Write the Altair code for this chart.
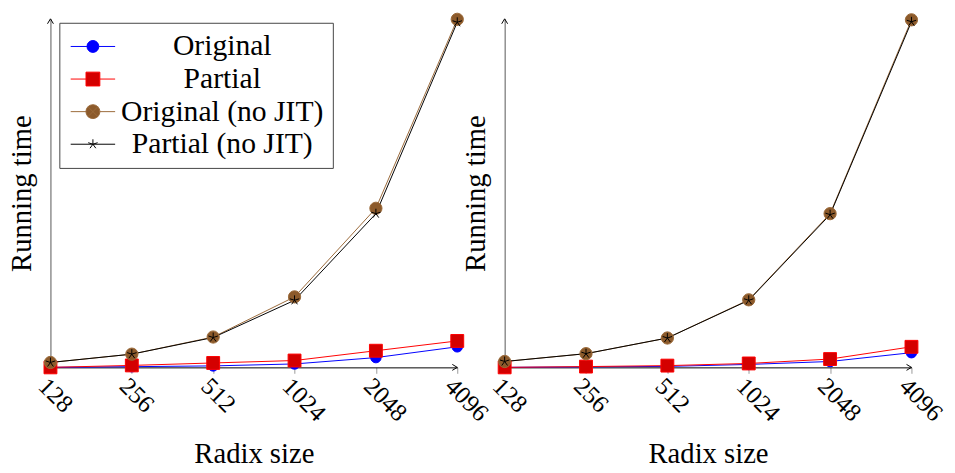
import altair as alt
import pandas as pd

radix = ["128", "256", "512", "1024", "2048", "4096"]
series = ["Original", "Partial", "Original (no JIT)", "Partial (no JIT)"]

# running times (arbitrary units)
left_original = [0, 0.7, 1.5, 3.5, 10, 21]
left_partial = [0, 2, 4.5, 7, 17, 27]
left_orig_nojit = [5, 13.5, 31, 72, 162.5, 355.5]
left_part_nojit = [5, 13.5, 30.5, 68.5, 157, 352.5]

right_original = [0, 0.5, 1, 3, 6, 15]
right_partial = [0, 0.8, 1.8, 4, 8.5, 21]
right_orig_nojit = [6, 14, 30, 69, 157, 355]
right_part_nojit = [6, 14, 30, 68.5, 156, 353]

line_colors = ["#0000ff", "#ff0000", "#9a6a3a", "#000000"]
fill_colors = ["#0000ff", "#d40000", "#8c5a2b", "transparent"]
STAR = "M0,0L0,-1M0,0L0.951,-0.309M0,0L0.588,0.809M0,0L-0.588,0.809M0,0L-0.951,-0.309"
point_shapes = ["circle", "square", "circle", STAR]
point_sizes = [113, 170, 154, 100]

# legend symbol geometry (line sample with a marker in the middle)
SYM_SIZE = 576          # legend layout square of 24 px
U = 12.0                # px per path unit
CX = 12.5               # px where the symbol origin sits
LINE_LEN = 45.0


def ux(px):
    return round((px - CX) / U, 3)


def uy(px):
    return round(px / U, 3)


def seg(x0, x1):
    return f"M{ux(x0)},0L{ux(x1)},0"


def circle(r):
    m = LINE_LEN / 2
    return (f"M{ux(m + r)},0A{uy(r)},{uy(r)},0,1,1,{ux(m - r)},0"
            f"A{uy(r)},{uy(r)},0,1,1,{ux(m + r)},0Z")


mid = LINE_LEN / 2
legend_paths = [
    seg(0, mid - 6) + seg(mid + 6, LINE_LEN) + circle(6),
    seg(0, mid - 7) + seg(mid + 7, LINE_LEN)
    + f"M{ux(mid - 7)},{uy(-7)}L{ux(mid + 7)},{uy(-7)}L{ux(mid + 7)},{uy(7)}L{ux(mid - 7)},{uy(7)}Z",
    seg(0, mid - 7) + seg(mid + 7, LINE_LEN) + circle(7)
    + f"M{ux(mid - 5)},{uy(-5)}L{ux(mid + 5)},{uy(5)}M{ux(mid - 5)},{uy(5)}L{ux(mid + 5)},{uy(-5)}",
    seg(0, LINE_LEN)
    + f"M{ux(mid)},0L{ux(mid)},{uy(-5)}"
    + f"M{ux(mid)},0L{ux(mid + 4.76)},{uy(-1.55)}"
    + f"M{ux(mid)},0L{ux(mid + 2.94)},{uy(4.05)}"
    + f"M{ux(mid)},0L{ux(mid - 2.94)},{uy(4.05)}"
    + f"M{ux(mid)},0L{ux(mid - 4.76)},{uy(-1.55)}",
]

Y_MAX = 356
FONT = "Liberation Serif"


def sel(vals):
    expr = "'" + vals[-1] + "'"
    for s, v in reversed(list(zip(series[:-1], vals[:-1]))):
        expr = "datum.value === '" + s + "' ? '" + v + "' : " + expr
    return expr


def build(vals):
    rows = []
    for s, v in zip(series, vals):
        for r, y in zip(radix, v):
            rows.append({"radix": r, "series": s, "value": y})
    return pd.DataFrame(rows)


legend = alt.Legend(
    orient="none", legendX=9, legendY=4, title=None,
    symbolSize=SYM_SIZE, symbolStrokeWidth=1, labelAlign="center", labelOffset=126,
    labelFont=FONT, labelFontSize=30, labelColor="black", labelLimit=0,
    rowPadding=3, padding=9,
    strokeColor="#444", fillColor="white",
    symbolType={"expr": sel(legend_paths)},
    symbolFillColor={"expr": sel(fill_colors)},
    symbolStrokeColor={"expr": sel(line_colors)},
    symbolOpacity=1,
)


def panel(df):
    xenc = alt.X("radix:N", sort=radix, scale=alt.Scale(type="point", padding=0),
                 axis=alt.Axis(title="Radix size", labelAngle=45, labelAlign="left",
                               labelBaseline="top", labelFontSize=25, labelPadding=0,
                               tickSize=6, tickColor="#999", domainColor="black",
                               titlePadding=14, grid=False))
    yenc = alt.Y("value:Q", scale=alt.Scale(domain=[0, Y_MAX], nice=False, zero=True),
                 axis=alt.Axis(title="Running time", labels=False, ticks=False, grid=False,
                               domainColor="#555", titlePadding=14))
    base = alt.Chart(df).encode(x=xenc, y=yenc)
    lines = base.mark_line(strokeWidth=1).encode(
        stroke=alt.Stroke("series:N", sort=series,
                          scale=alt.Scale(domain=series, range=line_colors), legend=legend),
        detail="series:N",
    )
    point_layers = []
    for s, shp, sz, fc, lc in zip(series, point_shapes, point_sizes, fill_colors, line_colors):
        point_layers.append(
            base.transform_filter(alt.datum.series == s).mark_point(
                shape=shp, size=sz, filled=(fc != "transparent"), fill=fc, stroke=lc,
                strokeWidth=1, opacity=1,
            )
        )
    xa = alt.Chart(pd.DataFrame({"radix": [radix[-1]], "value": [0]})).mark_point(
        shape="M-1,-0.6L0,0L-1,0.6", size=100, filled=False, stroke="black", strokeWidth=1, opacity=1
    ).encode(x=alt.X("radix:N", sort=radix), y="value:Q")
    ya = alt.Chart(pd.DataFrame({"radix": [radix[0]], "value": [Y_MAX]})).mark_point(
        shape="M-0.6,1L0,0L0.6,1", size=100, filled=False, stroke="black", strokeWidth=1, opacity=1
    ).encode(x=alt.X("radix:N", sort=radix), y="value:Q")
    return alt.layer(lines, xa, ya, *point_layers).properties(width=412, height=353)


left = panel(build([left_original, left_partial, left_orig_nojit, left_part_nojit]))
right = panel(build([right_original, right_partial, right_orig_nojit, right_part_nojit]))

chart = alt.hconcat(left, right, spacing=48, bounds="flush").properties(
    padding={"left": 0, "top": 0, "right": 0, "bottom": 0}
).configure_view(stroke=None).configure_axis(
    labelFont=FONT, titleFont=FONT, titleFontSize=29, titleFontWeight="normal",
    labelColor="black", titleColor="black",
)

chart.save("out.html", embed_options={"renderer": "svg", "actions": False})
